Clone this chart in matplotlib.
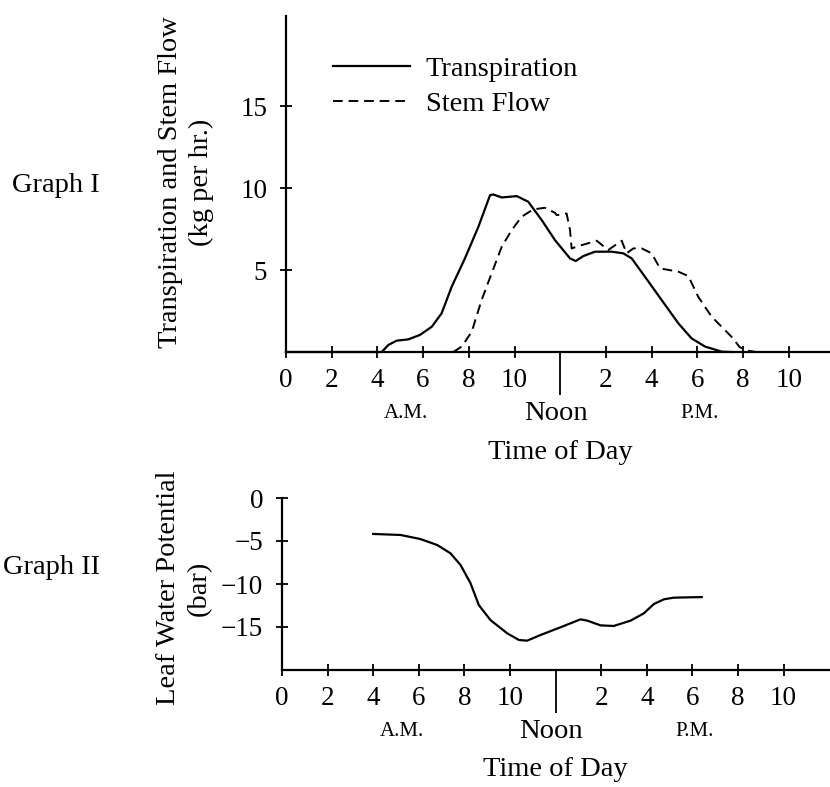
import matplotlib
matplotlib.use("Agg")
import matplotlib.pyplot as plt

plt.rcParams['font.family'] = ['Liberation Serif', 'DejaVu Serif']
plt.rcParams['axes.unicode_minus'] = True

# ---------------- data ----------------
trans_hours = [0, 4.19, 4.48, 4.84, 5.35, 5.86, 6.38, 6.81, 7.25, 7.83, 8.42, 8.93, 9.07,
               9.44, 10.1, 10.6, 11.19, 11.77, 12.43, 12.68, 13.01, 13.52, 14.25, 14.76,
               15.13, 15.71, 16.44, 17.17, 17.75, 18.34, 19.07, 19.5]
trans_vals = [0, 0, 0.43, 0.69, 0.77, 1.04, 1.54, 2.36, 3.98, 5.71, 7.64, 9.57, 9.61,
              9.43, 9.51, 9.17, 8.05, 6.83, 5.71, 5.55, 5.85, 6.12, 6.12, 6.02,
              5.71, 4.59, 3.17, 1.75, 0.83, 0.33, 0.02, 0]

stem_hours = [7.32, 7.69, 8.13, 8.56, 9.0, 9.44, 9.88, 10.31, 10.82, 11.33, 11.77, 11.85,
              12.28, 12.43, 12.5, 12.94, 13.6, 14.1, 14.69, 14.91, 15.2, 15.57, 16.0,
              16.37, 17.17, 17.61, 18.04, 18.63, 19.21, 19.55, 19.85, 20.2, 20.6]
stem_vals = [0, 0.33, 1.24, 3.17, 4.8, 6.42, 7.44, 8.25, 8.7, 8.8, 8.49, 8.35,
             8.45, 7.44, 6.32, 6.52, 6.79, 6.22, 6.79, 6.02, 6.32, 6.32, 6.02,
             5.1, 4.9, 4.63, 3.37, 2.15, 1.34, 0.85, 0.3, 0.08, 0]

lwp_hours = [4.0, 4.1, 5.2, 6.07, 6.81, 7.39, 7.83, 8.27, 8.63, 9.14, 9.88, 10.39, 10.75,
             11.34, 12.21, 13.09, 13.39, 13.97, 14.55, 15.29, 15.87, 16.31, 16.75,
             17.18, 17.84, 18.41]
lwp_vals = [-4.18, -4.19, -4.3, -4.77, -5.47, -6.43, -7.79, -9.92, -12.44, -14.19,
            -15.74, -16.51, -16.59, -15.93, -15.04, -14.11, -14.26, -14.81, -14.88,
            -14.26, -13.41, -12.33, -11.78, -11.59, -11.55, -11.52]

x_tick_pos = [0, 2, 4, 6, 8, 10, 14, 16, 18, 20, 22]
x_tick_labels = ['0', '2', '4', '6', '8', '10', '2', '4', '6', '8', '10']
top_y_ticks = [5, 10, 15]
top_y_labels = ['5', '10', '15']
bot_y_ticks = [0, -5, -10, -15]
bot_y_labels = ['0', '\u22125', '\u221210', '\u221215']
noon = [12]

# ---------------- figure ----------------
W, H = 830, 787
fig = plt.figure(figsize=(W / 100, H / 100), dpi=100)

def fx(px):
    return px / W

def fy(py):
    return 1 - py / H

FS_TICK = 19.5
FS = 20.5

def style_axes(ax):
    for s in ['top', 'right']:
        ax.spines[s].set_visible(False)
    for s in ['left', 'bottom']:
        ax.spines[s].set_linewidth(1.6)
    ax.tick_params(axis='both', which='major', direction='inout', length=9,
                   width=1.3, labelsize=FS_TICK)
    ax.tick_params(axis='x', which='major', pad=7)
    ax.tick_params(axis='y', which='major', pad=9)
    ax.set_xticks(x_tick_pos)
    ax.set_xticklabels(x_tick_labels)
    ax.set_xticks(noon, minor=True)
    ax.tick_params(axis='x', which='minor', direction='out', length=31, width=1.3)
    ax.patch.set_alpha(0)

def add_time_labels(ax, am_x, noon_x, pm_x, title_x):
    tr = ax.get_xaxis_transform()
    ax.annotate('A.M.', xy=(am_x, 0), xycoords=tr, xytext=(0, -44),
                textcoords='offset points', ha='center', va='center', fontsize=15,
                annotation_clip=False)
    ax.annotate('Noon', xy=(noon_x, 0), xycoords=tr, xytext=(0, -44),
                textcoords='offset points', ha='center', va='center', fontsize=FS,
                annotation_clip=False)
    ax.annotate('P.M.', xy=(pm_x, 0), xycoords=tr, xytext=(0, -44),
                textcoords='offset points', ha='center', va='center', fontsize=15,
                annotation_clip=False)
    ax.annotate('Time of Day', xy=(title_x, 0), xycoords=tr, xytext=(0, -72),
                textcoords='offset points', ha='center', va='center', fontsize=FS,
                annotation_clip=False)

# ---- Graph I ----
ax1 = fig.add_axes([fx(286), fy(352), fx(830 - 286), (352 - 16) / H])
ax1.set_xlim(0, (830 - 286) / 22.85)
ax1.set_ylim(0, 20.5)
style_axes(ax1)
ax1.set_yticks(top_y_ticks)
ax1.set_yticklabels(top_y_labels)
l1, = ax1.plot(trans_hours, trans_vals, color='black', lw=1.6, clip_on=False,
               solid_joinstyle='round')
l2, = ax1.plot(stem_hours, stem_vals, color='black', lw=1.4, linestyle=(0, (5, 3)),
               clip_on=False)
leg = ax1.legend([l1, l2], ['Transpiration', 'Stem Flow'], loc='upper left',
                 frameon=False, fontsize=FS, handlelength=2.7, handletextpad=0.55,
                 labelspacing=0.32, borderaxespad=0, borderpad=0)
leg.set_bbox_to_anchor((fx(333), fy(56)), transform=fig.transFigure)
add_time_labels(ax1, 5.25, 11.8, 18.1, 12.0)

fig.text(fx(186), fy(182), 'Transpiration and Stem Flow\n(kg per hr.)', rotation=90,
         ha='center', va='center', fontsize=FS, multialignment='center',
         linespacing=1.35)
fig.text(fx(56), fy(185), 'Graph I', ha='center', va='center', fontsize=FS)

# ---- Graph II ----
ax2 = fig.add_axes([fx(282), fy(670), fx(830 - 282), (670 - 498) / H])
ax2.set_xlim(0, (830 - 282) / 22.8)
ax2.set_ylim(-20, 0)
style_axes(ax2)
ax2.set_yticks(bot_y_ticks)
ax2.set_yticklabels(bot_y_labels)
ax2.plot(lwp_hours, lwp_vals, color='black', lw=1.6, clip_on=False,
         solid_joinstyle='round')
add_time_labels(ax2, 5.25, 11.8, 18.1, 12.0)

fig.text(fx(184), fy(588), 'Leaf Water Potential\n(bar)', rotation=90,
         ha='center', va='center', fontsize=FS, multialignment='center',
         linespacing=1.35)
fig.text(fx(51), fy(568), 'Graph II', ha='center', va='center', fontsize=FS)

fig.savefig('out.png', dpi=100, facecolor='white')
